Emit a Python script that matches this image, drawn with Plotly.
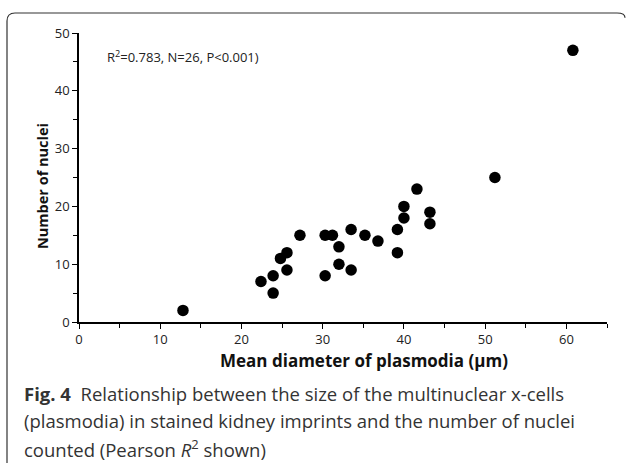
import plotly.graph_objects as go

diameter = [12.8, 22.4, 23.9, 23.9, 24.8, 25.6, 25.6, 27.2, 30.3, 31.2, 30.3, 32.0, 32.0,
            33.5, 33.5, 35.2, 36.8, 39.2, 39.2, 40.0, 40.0, 41.6, 43.2, 43.2, 51.2, 60.8]
nuclei = [2, 7, 8, 5, 11, 12, 9, 15, 15, 15, 8, 13, 10,
          16, 9, 15, 14, 16, 12, 20, 18, 23, 19, 17, 25, 47]
x_ticks = [0, 10, 20, 30, 40, 50, 60]
y_ticks = [0, 10, 20, 30, 40, 50]

W, H = 627, 463
L, R, T, B = 79, 20, 33, 141
pw, ph = W - L - R, H - T - B

def px(x):
    return (x - L) / pw

def py(y):
    return (H - B - y) / ph

fig = go.Figure()
fig.add_trace(go.Scatter(
    x=diameter, y=nuclei, mode="markers",
    marker=dict(color="black", size=11.5, line=dict(width=0)),
    hoverinfo="x+y", showlegend=False,
))

tickfont = dict(family="Open Sans, Liberation Sans, sans-serif", size=13, color="#222")
fig.update_xaxes(
    range=[0, 65], tickvals=x_ticks, showgrid=False, zeroline=False,
    showline=True, linecolor="black", linewidth=1.5,
    ticks="outside", ticklen=5, tickwidth=1.2, tickcolor="black",
    minor=dict(dtick=5, tick0=0, ticks="outside", ticklen=4, tickwidth=1.2, tickcolor="black"),
    tickfont=tickfont, fixedrange=True,
)
fig.update_yaxes(
    range=[0, 50], tickvals=y_ticks, showgrid=False, zeroline=False,
    showline=True, linecolor="black", linewidth=1.5,
    ticks="outside", ticklen=5, tickwidth=1.2, tickcolor="black",
    minor=dict(dtick=5, tick0=0, ticks="outside", ticklen=4, tickwidth=1.2, tickcolor="black"),
    tickfont=tickfont, fixedrange=True,
)

# rounded frame
x0, y0 = px(7), py(13)
x1 = px(625)
yb = py(470)
rx, ry = 8 / pw, 8 / ph
path = (f"M {x0},{yb} L {x0},{y0 - ry} Q {x0},{y0} {x0 + rx},{y0} "
        f"L {x1 - rx},{y0} Q {x1},{y0} {x1},{y0 - 0.6 * ry}")
fig.add_shape(type="path", path=path, xref="paper", yref="paper",
              line=dict(color="#333", width=1.2))

P = dict(xref="paper", yref="paper", showarrow=False)
annots = []
annots.append(dict(x=px(105), y=py(56), text="R<sup>2</sup>=0.783, N=26, P<0.001)",
                   xanchor="left", yanchor="middle",
                   font=dict(family="Open Sans, sans-serif", size=13, color="#222"), **P))
annots.append(dict(x=px(364), y=py(360), text="<b>Mean diameter of plasmodia (μm)</b>",
                   xanchor="center", yanchor="middle",
                   font=dict(family="Open Sans, sans-serif", size=17, color="#111"), **P))
annots.append(dict(x=px(42), y=py(186), text="<b>Number of nuclei</b>", textangle=-90,
                   xanchor="center", yanchor="middle",
                   font=dict(family="Open Sans, sans-serif", size=14.5, color="#111"), **P))
cap_font = dict(family="Open Sans, Noto Sans, sans-serif", size=18.5, color="#333")
caption = [
    "<b>Fig. 4</b>  Relationship between the size of the multinuclear x-cells",
    "(plasmodia) in stained kidney imprints and the number of nuclei",
    "counted (Pearson <i>R</i><sup>2</sup> shown)",
]
for i, line in enumerate(caption):
    annots.append(dict(x=px(22), y=py(393 + 27.5 * i), text=line,
                       xanchor="left", yanchor="middle", font=cap_font, **P))
fig.update_layout(
    width=W, height=H, margin=dict(l=L, r=R, t=T, b=B, autoexpand=False),
    paper_bgcolor="white", plot_bgcolor="white",
    annotations=annots, showlegend=False,
)
fig.write_html("out.html", config={"displayModeBar": False},
               post_script="document.body.style.margin='0';")
